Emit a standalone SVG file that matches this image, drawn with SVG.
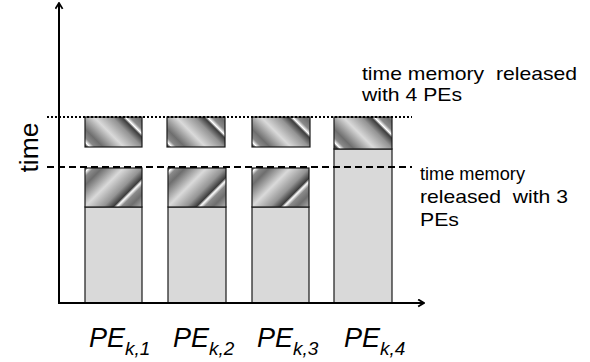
<svg xmlns="http://www.w3.org/2000/svg" width="590" height="362" viewBox="0 0 590 362">
  <style>
    .lbl { font-family: "Liberation Sans", Arial, sans-serif; fill: #000; }
    .note { font-size: 18.5px; }
    .pe { font-size: 27px; font-style: italic; }
    .sub { font-size: 19px; font-style: italic; }
    .base { fill: #d9d9d9; stroke: #1a1a1a; stroke-width: 1.2; }
    .hatch { stroke: #1a1a1a; stroke-width: 1.2; }
    .axis { stroke: #000; stroke-width: 2; fill: none; }
  </style>
  <defs>
    <!-- "\" striped metal-like fill, one band cycle every 46px across the stripes -->
    <linearGradient id="stripeDown" gradientUnits="userSpaceOnUse" x1="90" y1="147" x2="122.5" y2="114.5" spreadMethod="repeat">
      <stop offset="0" stop-color="#ffffff"/>
      <stop offset="0.07" stop-color="#8a8a8a"/>
      <stop offset="0.2" stop-color="#6e6e6e"/>
      <stop offset="0.52" stop-color="#dadada"/>
      <stop offset="0.8" stop-color="#949494"/>
      <stop offset="0.95" stop-color="#3c3c3c"/>
      <stop offset="1" stop-color="#ffffff"/>
    </linearGradient>
    <linearGradient id="stripeDown2" href="#stripeDown" gradientTransform="translate(82,0)"/>
    <linearGradient id="stripeDown3" href="#stripeDown" gradientTransform="translate(167,0)"/>
    <linearGradient id="stripeDown4" href="#stripeDown" gradientTransform="translate(249,0)"/>
    <!-- "/" striped metal-like fill -->
    <linearGradient id="stripeUp" gradientUnits="userSpaceOnUse" x1="89" y1="168" x2="122.2" y2="201.2" spreadMethod="repeat">
      <stop offset="0" stop-color="#ffffff"/>
      <stop offset="0.07" stop-color="#8a8a8a"/>
      <stop offset="0.2" stop-color="#6e6e6e"/>
      <stop offset="0.52" stop-color="#dadada"/>
      <stop offset="0.8" stop-color="#949494"/>
      <stop offset="0.95" stop-color="#3c3c3c"/>
      <stop offset="1" stop-color="#ffffff"/>
    </linearGradient>
    <linearGradient id="stripeUp2" href="#stripeUp" gradientTransform="translate(83,0)"/>
    <linearGradient id="stripeUp3" href="#stripeUp" gradientTransform="translate(167,0)"/>
    <marker id="arrow" viewBox="0 0 10 10" refX="8.5" refY="5" markerWidth="9" markerHeight="9" orient="auto" markerUnits="userSpaceOnUse">
      <path d="M2,1 L8.5,5 L2,9" fill="none" stroke="#000" stroke-width="2"/>
    </marker>
  </defs>

  <!-- PE columns -->
  <g id="pe1">
    <rect class="base" x="85" y="207" width="57" height="96"/>
    <rect class="hatch" fill="url(#stripeUp)" x="85" y="168" width="57" height="39"/>
    <rect class="hatch" fill="url(#stripeDown)" x="85" y="117" width="57" height="30"/>
  </g>
  <g id="pe2">
    <rect class="base" x="168" y="207" width="58" height="96"/>
    <rect class="hatch" fill="url(#stripeUp2)" x="168" y="168" width="58" height="39"/>
    <rect class="hatch" fill="url(#stripeDown2)" x="167" y="117" width="58" height="30"/>
  </g>
  <g id="pe3">
    <rect class="base" x="252" y="207" width="57" height="96"/>
    <rect class="hatch" fill="url(#stripeUp3)" x="252" y="168" width="57" height="39"/>
    <rect class="hatch" fill="url(#stripeDown3)" x="252" y="117" width="58" height="30"/>
  </g>
  <g id="pe4">
    <rect class="base" x="334" y="149" width="58" height="154"/>
    <rect class="hatch" fill="url(#stripeDown4)" x="334" y="117" width="58" height="32"/>
  </g>

  <!-- axes and level lines -->
  <g id="connectors">
    <line class="axis" x1="59" y1="304" x2="59" y2="3" marker-end="url(#arrow)"/>
    <line class="axis" x1="58" y1="303" x2="424" y2="303" marker-end="url(#arrow)"/>
    <line x1="47" y1="117" x2="412" y2="117" stroke="#000" stroke-width="2" stroke-dasharray="2 2"/>
    <line x1="47" y1="167" x2="412" y2="167" stroke="#000" stroke-width="2" stroke-dasharray="7 4"/>
  </g>

  <!-- labels -->
  <g id="labels">
    <text class="lbl" x="0" y="0" font-size="26" transform="translate(38,147.5) rotate(-90)" text-anchor="middle" textLength="50" lengthAdjust="spacingAndGlyphs">time</text>
    <text class="lbl note" x="362" y="80" textLength="215" lengthAdjust="spacingAndGlyphs" xml:space="preserve">time memory  released</text>
    <text class="lbl note" x="362" y="101" textLength="100" lengthAdjust="spacingAndGlyphs">with 4 PEs</text>
    <text class="lbl note" x="420" y="180" textLength="105" lengthAdjust="spacingAndGlyphs">time memory</text>
    <text class="lbl note" x="420" y="203" textLength="148" lengthAdjust="spacingAndGlyphs" xml:space="preserve">released  with 3</text>
    <text class="lbl note" x="420" y="226" textLength="39" lengthAdjust="spacingAndGlyphs">PEs</text>
    <text class="lbl pe" x="89" y="347">PE<tspan class="sub" dy="8">k,</tspan><tspan class="sub" font-style="normal">1</tspan></text>
    <text class="lbl pe" x="173" y="347">PE<tspan class="sub" dy="8">k,</tspan><tspan class="sub" font-style="normal">2</tspan></text>
    <text class="lbl pe" x="257" y="347">PE<tspan class="sub" dy="8">k,</tspan><tspan class="sub" font-style="normal">3</tspan></text>
    <text class="lbl pe" x="344" y="347">PE<tspan class="sub" dy="8">k,</tspan><tspan class="sub" font-style="normal">4</tspan></text>
  </g>
</svg>
